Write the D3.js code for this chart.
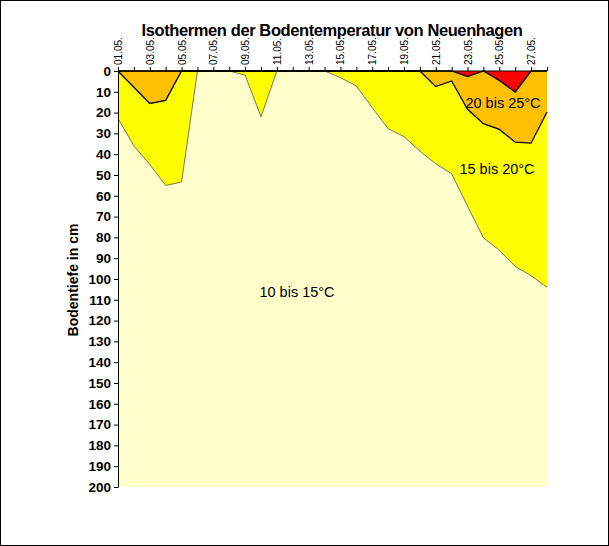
<!DOCTYPE html>
<html><head><meta charset="utf-8">
<script src="https://cdn.jsdelivr.net/npm/d3@7"></script>
<style>body{margin:0;background:#fff}</style></head>
<body><svg id="c" width="609" height="546"></svg>
<script>
const days = d3.range(1, 29);
const dayLabels = days.filter(d => d % 2 === 1).map(d => String(d).padStart(2, "0") + ".05.");
const iso15 = [22.8,36,45,55,53.4,0,0,0,2,22,0,0,0,0,3.2,7.2,17.6,27.7,31.6,38.5,44.6,49.4,65,80.2,86.2,93.9,98.4,104];
const iso20 = [0,7.8,15.6,14.1,0,0,0,0,0,0,0,0,0,0,0,0,0,0,0,0,7.5,4.8,18.4,25.3,28.1,34.2,34.7,19.7];
const iso25 = [0,0,0,0,0,0,0,0,0,0,0,0,0,0,0,0,0,0,0,0,0,0,2.7,0,4.5,10.1,0,0];
const yTicks = d3.range(0, 201, 10);

const svg = d3.select("#c");
svg.append("rect").attr("x",0.5).attr("y",0.5).attr("width",608).attr("height",545).attr("fill","#fff").attr("stroke","#000");
const L=118,R=547,T=71,B=487;
const x = d3.scaleLinear().domain([1,28]).range([L,R]);
const y = d3.scaleLinear().domain([0,200]).range([T,B]);
svg.append("rect").attr("x",L).attr("y",T).attr("width",R-L).attr("height",B-T).attr("fill","#FFFFCC");
const area = v => d3.area().x((d,i)=>x(days[i])).y0(y(0)).y1((d)=>y(d))(v);
const line = v => d3.line().x((d,i)=>x(days[i])).y(d=>y(d))(v);
svg.append("path").attr("d",area(iso15)).attr("fill","#FFFF00");
svg.append("path").attr("d",line(iso15)).attr("fill","none").attr("stroke","#555").attr("stroke-width",0.8);
svg.append("path").attr("d",area(iso20)).attr("fill","#FFC000");
svg.append("path").attr("d",line(iso20)).attr("fill","none").attr("stroke","#000").attr("stroke-width",1.3);
svg.append("path").attr("d",area(iso25)).attr("fill","#FF0000");
svg.append("path").attr("d",line(iso25)).attr("fill","none").attr("stroke","#000").attr("stroke-width",1.3);
svg.append("line").attr("x1",L).attr("x2",R).attr("y1",T).attr("y2",T).attr("stroke","#000").attr("stroke-width",1.2);

const f="Arial, Liberation Sans, sans-serif";
const ya = svg.append("g").attr("transform",`translate(${L},0)`).call(d3.axisLeft(y).tickValues(yTicks).tickSize(4).tickSizeOuter(0));
ya.selectAll("text").attr("font-family",f).attr("font-size",13.5).attr("font-weight","bold").attr("fill","#000");
ya.select(".domain").attr("stroke","#000");
const xa = svg.append("g").attr("transform",`translate(0,${T})`).call(d3.axisTop(x).tickValues(days).tickSize(4).tickFormat(d => d%2===1 ? String(d).padStart(2,"0")+".05." : "").tickSizeOuter(0));
xa.select(".domain").remove();
xa.selectAll("text").attr("font-family",f).attr("font-size",10).attr("fill","#000")
  .attr("transform","rotate(-90)").attr("text-anchor","start").attr("x",6).attr("y",0).attr("dy","0.35em");

svg.append("text").attr("x",332).attr("y",36).attr("text-anchor","middle").attr("font-family",f).attr("font-weight","bold").attr("font-size",16.5).attr("letter-spacing","-0.4").text("Isothermen der Bodentemperatur von Neuenhagen");
svg.append("text").attr("transform","translate(78,280) rotate(-90)").attr("text-anchor","middle").attr("font-family",f).attr("font-weight","bold").attr("font-size",14).text("Bodentiefe in cm");
const lab=(t,xx,yy)=>svg.append("text").attr("x",xx).attr("y",yy).attr("text-anchor","middle").attr("font-family",f).attr("font-size",14.5).text(t);
lab("20 bis 25°C",503,108);
lab("15 bis 20°C",497,174);
lab("10 bis 15°C",297,297);
</script></body></html>
